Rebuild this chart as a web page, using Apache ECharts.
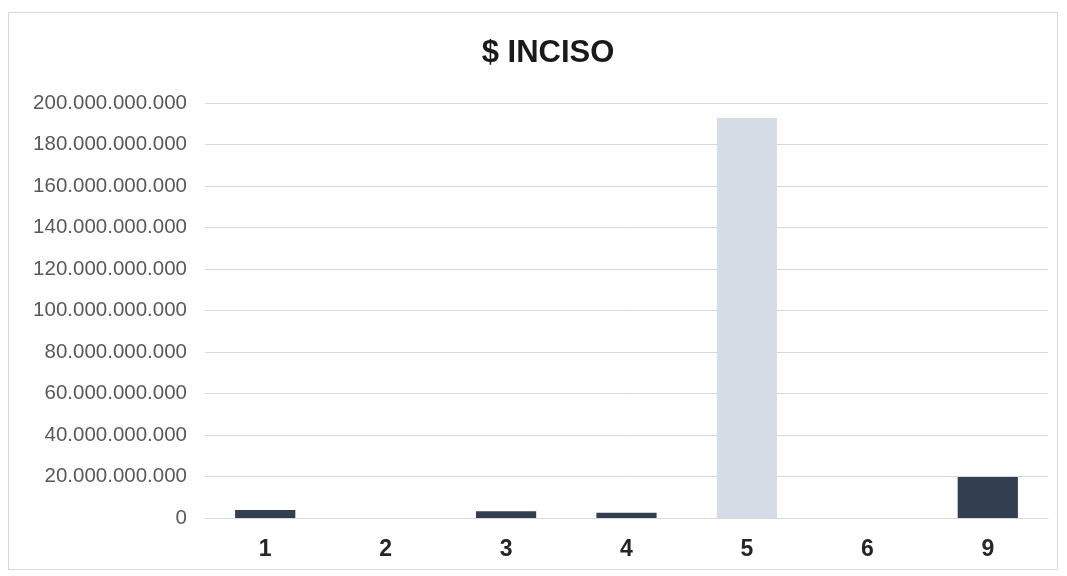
<!DOCTYPE html>
<html>
<head>
<meta charset="utf-8">
<script src="https://cdn.jsdelivr.net/npm/echarts@6/dist/echarts.min.js"></script>
<style>
html,body{margin:0;padding:0;background:#fff;}
#frame{position:absolute;left:8px;top:12px;width:1050px;height:558px;border:1px solid #d9d9d9;box-sizing:border-box;}
#c{position:absolute;left:0;top:0;width:1067px;height:576px;}
</style>
</head>
<body>
<div id="frame"></div>
<div id="c"></div>
<script>
const categories = ['1','2','3','4','5','6','9'];
const values = [3900000000, 0, 3300000000, 2500000000, 192800000000, 0, 19700000000];
const barColors = ['#333f50','#333f50','#333f50','#333f50','#d6dce5','#333f50','#333f50'];

function fmt(v){
  return String(Math.round(v)).replace(/\B(?=(\d{3})+(?!\d))/g,'.');
}

const chart = echarts.init(document.getElementById('c'));
chart.setOption({
  animation:false,
  title:{text:'$ INCISO',left:543,top:33,textAlign:'center',
    textStyle:{fontFamily:'Liberation Sans, Arial, sans-serif',fontSize:31,fontWeight:'bold',color:'#1a1a1a'}},
  grid:{left:205,right:19,top:103,bottom:58},
  xAxis:{type:'category',data:categories,
    axisLine:{lineStyle:{color:'#d9d9d9'}},axisTick:{show:false},
    axisLabel:{fontFamily:'Liberation Sans, Arial, sans-serif',fontSize:23,fontWeight:'bold',color:'#262626',margin:20}},
  yAxis:{type:'value',min:0,max:200000000000,interval:20000000000,
    axisLine:{show:false},axisTick:{show:false},
    splitLine:{lineStyle:{color:'#d9d9d9',width:1}},
    axisLabel:{formatter:fmt,fontFamily:'Liberation Sans, Arial, sans-serif',fontSize:20.5,color:'#595959',margin:18}},
  series:[{type:'bar',barWidth:'50%',
    data:values.map((v,i)=>({value:v,itemStyle:{color:barColors[i]}}))}]
});
</script>
</body>
</html>
